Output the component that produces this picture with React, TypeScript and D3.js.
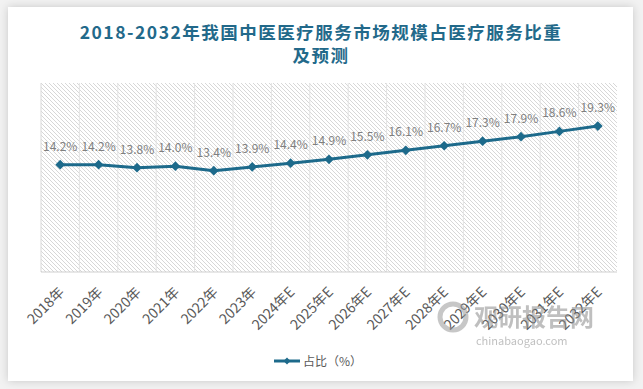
import React, { useRef, useEffect } from "react";
import * as d3 from "d3";

const years = [
  "2018年", "2019年", "2020年", "2021年", "2022年", "2023年", "2024年E", "2025年E",
  "2026年E", "2027年E", "2028年E", "2029年E", "2030年E", "2031年E", "2032年E",
];
const share = [14.2, 14.2, 13.8, 14.0, 13.4, 13.9, 14.4, 14.9, 15.5, 16.1, 16.7, 17.3, 17.9, 18.6, 19.3];
const titleLines = ["2018-2032年我国中医医疗服务市场规模占医疗服务比重", "及预测"];
const legendLabel = "占比（%）";

const W = 643;
const H = 389;
const FONT = "'Noto Sans CJK SC', 'Noto Sans', sans-serif";
const LINE_COLOR = "#1d6a8b";

const App = () => {
  const svgRef = useRef<SVGSVGElement>(null);

  useEffect(() => {
    document.body.style.margin = "0";
    const svg = d3.select(svgRef.current);
    svg.selectAll("*").remove();

    const margin = { top: 83, right: 26, bottom: 117, left: 41 };
    const innerWidth = W - margin.left - margin.right;
    const innerHeight = H - margin.top - margin.bottom;

    const defs = svg.append("defs");
    const pat = defs
      .append("pattern")
      .attr("id", "hatch")
      .attr("patternUnits", "userSpaceOnUse")
      .attr("width", 4)
      .attr("height", 4);
    pat.append("rect").attr("width", 4).attr("height", 4).attr("fill", "#ffffff");
    pat
      .append("path")
      .attr("d", "M-1,-1 L5,5 M-1,3 L1,5 M3,-1 L5,1")
      .attr("stroke", "#d2d2d2")
      .attr("stroke-width", 0.9);

    const shadow = defs.append("filter").attr("id", "shadow").attr("x", "-5%").attr("y", "-5%").attr("width", "110%").attr("height", "110%");
    shadow.append("feDropShadow").attr("dx", 0).attr("dy", 0).attr("stdDeviation", 4).attr("flood-color", "#000").attr("flood-opacity", 0.18);

    // page background + card
    svg.append("rect").attr("width", W).attr("height", H).attr("fill", "#f2f2f2");
    svg
      .append("rect")
      .attr("x", 8)
      .attr("y", 7)
      .attr("width", 625)
      .attr("height", 374)
      .attr("fill", "#ffffff")
      .attr("filter", "url(#shadow)");

    // title
    const title = svg
      .append("text")
      .attr("text-anchor", "middle")
      .attr("font-family", FONT)
      .attr("font-weight", "bold")
      .attr("font-size", 17.5)
      .attr("letter-spacing", 1.5)
      .attr("fill", "#22698a");
    titleLines.forEach((t, i) => {
      title.append("tspan").attr("x", 321).attr("y", 39 + i * 23).text(t);
    });

    const x = d3.scaleBand().domain(years).range([0, innerWidth]);
    const y = d3.scaleLinear().domain([0, 25]).range([innerHeight, 0]);

    const g = svg.append("g").attr("transform", `translate(${margin.left}, ${margin.top})`);

    g.append("rect").attr("width", innerWidth).attr("height", innerHeight).attr("fill", "url(#hatch)");

    // vertical gridlines at category boundaries
    g.selectAll(".vgrid")
      .data(years.slice(1))
      .join("line")
      .attr("x1", (d) => x(d)!)
      .attr("x2", (d) => x(d)!)
      .attr("y1", 0)
      .attr("y2", innerHeight)
      .attr("stroke", "#e3e3e3")
      .attr("stroke-width", 1);

    g.append("line").attr("x1", 0).attr("x2", 0).attr("y1", 0).attr("y2", innerHeight).attr("stroke", "#d9d9d9");
    g.append("line")
      .attr("x1", 0)
      .attr("x2", innerWidth)
      .attr("y1", innerHeight)
      .attr("y2", innerHeight)
      .attr("stroke", "#d0d0d0")
      .attr("stroke-width", 1.2);

    // x labels
    g.selectAll(".xlab")
      .data(years)
      .join("text")
      .attr(
        "transform",
        (d) => `translate(${x(d)! + x.bandwidth() / 2 + 5}, ${innerHeight + 21}) rotate(-45)`
      )
      .attr("text-anchor", "end")
      .attr("font-family", FONT)
      .attr("font-size", 14)
      .attr("fill", "#595959")
      .text((d) => d);

    const cx = (i: number) => x(years[i])! + x.bandwidth() / 2;

    const line = d3
      .line<number>()
      .x((_, i) => cx(i))
      .y((d) => y(d));

    g.append("path")
      .datum(share)
      .attr("d", line)
      .attr("fill", "none")
      .attr("stroke", LINE_COLOR)
      .attr("stroke-width", 3)
      .attr("stroke-linejoin", "round");

    const diamond = d3.symbol().type(d3.symbolDiamond2).size(60);

    g.selectAll(".pt")
      .data(share)
      .join("path")
      .attr("d", diamond)
      .attr("transform", (d, i) => `translate(${cx(i)}, ${y(d)})`)
      .attr("fill", LINE_COLOR);

    g.selectAll(".lab")
      .data(share)
      .join("text")
      .attr("x", (_, i) => cx(i))
      .attr("y", (d) => y(d) - 14)
      .attr("text-anchor", "middle")
      .attr("font-family", FONT)
      .attr("font-size", 12)
      .attr("fill", "#7f7f7f")
      .text((d) => `${d.toFixed(1)}%`);

    // watermark
    const wm = svg.append("g").attr("opacity", 0.55);
    wm.append("circle").attr("cx", 453).attr("cy", 317).attr("r", 13).attr("fill", "none").attr("stroke", "#9a9a9a").attr("stroke-width", 5);
    wm.append("text")
      .attr("x", 474)
      .attr("y", 326)
      .attr("font-family", FONT)
      .attr("font-weight", "bold")
      .attr("font-size", 24)
      .attr("fill", "#8c8c8c")
      .text("观研报告网");
    wm.append("text")
      .attr("x", 476)
      .attr("y", 345)
      .attr("font-family", FONT)
      .attr("font-size", 11)
      .attr("fill", "#8c8c8c")
      .text("chinabaogao.com");

    // legend
    const lg = svg.append("g").attr("transform", "translate(274, 361)");
    lg.append("line").attr("x1", 0).attr("x2", 26).attr("y1", 0).attr("y2", 0).attr("stroke", LINE_COLOR).attr("stroke-width", 3);
    lg.append("path").attr("d", d3.symbol().type(d3.symbolDiamond2).size(30)).attr("transform", "translate(13, 0)").attr("fill", LINE_COLOR);
    lg.append("text")
      .attr("x", 29)
      .attr("y", 4.5)
      .attr("font-family", FONT)
      .attr("font-size", 12)
      .attr("fill", "#595959")
      .text(legendLabel);
  }, []);

  return <svg ref={svgRef} width={W} height={H} style={{ display: "block" }} />;
};

export default App;
